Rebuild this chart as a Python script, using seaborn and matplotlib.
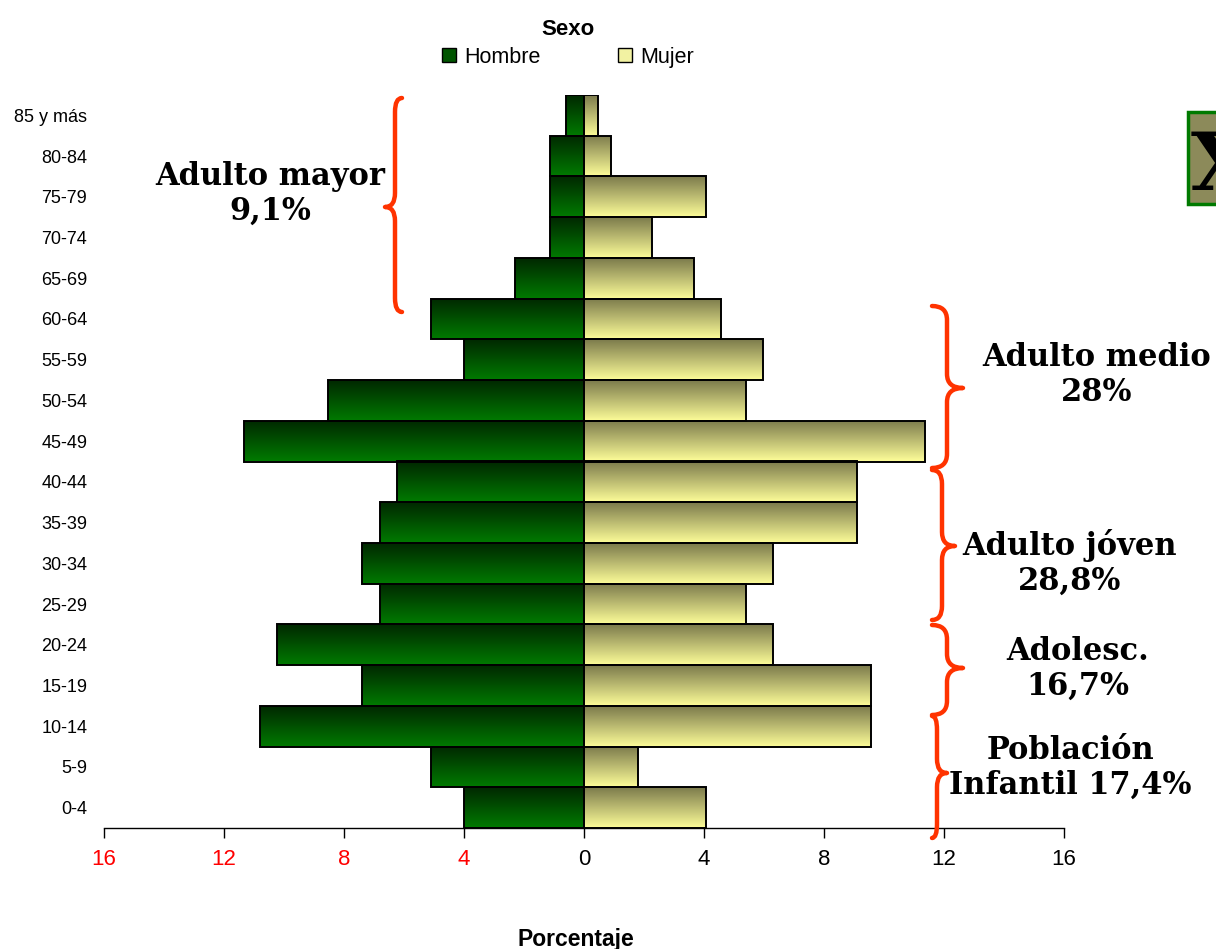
import numpy as np
import pandas as pd
import matplotlib
matplotlib.use("Agg")
import matplotlib.pyplot as plt
import seaborn as sns
from matplotlib import font_manager
from matplotlib.patches import Rectangle, PathPatch, Patch
from matplotlib.path import Path
from matplotlib.colors import LinearSegmentedColormap
from matplotlib.transforms import Affine2D

# age groups, top to bottom
edades = ["85 y más", "80-84", "75-79", "70-74", "65-69", "60-64", "55-59",
          "50-54", "45-49", "40-44", "35-39", "30-34", "25-29", "20-24",
          "15-19", "10-14", "5-9", "0-4"]
hombre = [0.6, 1.15, 1.15, 1.15, 2.3, 5.1, 4.0, 8.55, 11.35, 6.25, 6.8,
          7.4, 6.8, 10.25, 7.4, 10.8, 5.1, 4.0]
mujer = [0.45, 0.9, 4.05, 2.25, 3.65, 4.55, 5.95, 5.4, 11.35, 9.1, 9.1,
         6.3, 5.4, 6.3, 9.55, 9.55, 1.8, 4.05]
x_ticks = [-16, -12, -8, -4, 0, 4, 8, 12, 16]

grupos = [("Adulto mayor\n9,1%", 270, 194),
          ("Adulto medio\n28%", 1097, 375),
          ("Adulto jóven\n28,8%", 1070, 563),
          ("Adolesc.\n16,7%", 1078, 669),
          ("Población\nInfantil 17,4%", 1070, 768)]

W, H = 1216, 949
names = {f.name for f in font_manager.fontManager.ttflist}
narrow = ["Liberation Sans Narrow", "Liberation Sans"] if "Liberation Sans Narrow" in names else ["Liberation Sans"]

sns.set_style("white")
plt.rcParams["font.family"] = ["Liberation Sans", "DejaVu Sans"]
plt.rcParams.update({"text.color": "black", "axes.labelcolor": "black",
                     "xtick.color": "black", "ytick.color": "black"})

df = pd.DataFrame({
    "edad": edades * 2,
    "valor": [-v for v in hombre] + mujer,
    "sexo": ["Hombre"] * len(edades) + ["Mujer"] * len(edades),
})

fig = plt.figure(figsize=(W / 100, H / 100), dpi=100)
ax = fig.add_axes([104 / W, (H - 828) / H, 960 / W, 733 / H])
sns.barplot(data=df, x="valor", y="edad", hue="sexo", order=edades,
            orient="h", dodge=False, width=1.0, legend=False,
            palette={"Hombre": "#006600", "Mujer": "#f0f0a0"},
            edgecolor="black", linewidth=1.4, ax=ax)

# vertical gradient inside each bar, dark on top
cm_h = LinearSegmentedColormap.from_list("h", ["#002800", "#007a00"])
cm_m = LinearSegmentedColormap.from_list("m", ["#7c7b4c", "#fcfc98"])
grad = np.linspace(0, 1, 64).reshape(-1, 1)
for p in list(ax.patches):
    x0, w = p.get_x(), p.get_width()
    y0, h = p.get_y(), p.get_height()
    if w == 0:
        continue
    left, right = min(x0, x0 + w), max(x0, x0 + w)
    cmap = cm_h if left < 0 else cm_m
    im = ax.imshow(grad, cmap=cmap, aspect="auto", origin="upper",
                   extent=(left, right, max(y0, y0 + h), min(y0, y0 + h)),
                   zorder=p.get_zorder() - 0.05, interpolation="bilinear")
    im.set_clip_path(p)
    p.set_facecolor("none")

ax.set_xlim(-16, 16)
ax.set_ylim(len(edades) - 0.5, -0.5)
ax.set_xticks(x_ticks)
ax.set_xticklabels([str(abs(t)) for t in x_ticks], family=narrow, fontsize=16)
for t, lab in zip(x_ticks, ax.get_xticklabels()):
    lab.set_color("#ff0000" if t < 0 else "black")
ax.tick_params(axis="x", bottom=True, direction="out", length=7, width=1,
               color="black", pad=8)
ax.tick_params(axis="y", left=False, length=0, pad=12, labelsize=13)
for lab in ax.get_yticklabels():
    lab.set_family(narrow)
ax.set_ylabel("")
ax.set_xlabel("Porcentaje", fontsize=16.5, fontweight="bold")
ax.xaxis.set_label_coords(0.492, -0.136)
for s in ["top", "right", "left"]:
    ax.spines[s].set_visible(False)
ax.spines["bottom"].set_color("black")
ax.spines["bottom"].set_linewidth(1)

handles = [Patch(facecolor="#005500", edgecolor="black", linewidth=1),
           Patch(facecolor="#f2f2a2", edgecolor="black", linewidth=1)]
leg = fig.legend(handles, ["Hombre", "Mujer"], title="Sexo", loc="upper center",
                 bbox_to_anchor=(568 / W, 1 - 4 / H), ncol=2, frameon=False,
                 prop={"family": narrow, "size": 15.5},
                 title_fontproperties={"weight": "bold", "size": 16},
                 columnspacing=3.6, handlelength=0.65, handleheight=0.65,
                 handletextpad=0.4, borderpad=0.2, labelspacing=0.3)

# pixel coordinates with the origin at the top left
px = Affine2D().scale(1 / W, -1 / H).translate(0, 1) + fig.transFigure

for txt, x, y in grupos:
    fig.text(x, y, txt, transform=px, ha="center", va="center",
             multialignment="center", family="DejaVu Serif", fontsize=22,
             fontweight="bold", linespacing=1.15, color="black")


def brace(x_main, y_top, y_bot, x_tip, y_tip, x_end, r=14):
    verts = [(x_end, y_top), (x_main, y_top), (x_main, y_top + r),
             (x_main, y_tip - r), (x_main, y_tip), (x_tip, y_tip),
             (x_main, y_tip), (x_main, y_tip + r),
             (x_main, y_bot - r), (x_main, y_bot), (x_end, y_bot)]
    codes = [Path.MOVETO, Path.CURVE3, Path.CURVE3,
             Path.LINETO, Path.CURVE3, Path.CURVE3,
             Path.CURVE3, Path.CURVE3,
             Path.LINETO, Path.CURVE3, Path.CURVE3]
    fig.patches.append(PathPatch(Path(verts, codes), transform=px, fill=False,
                                 edgecolor="#ff3300", linewidth=3.2,
                                 capstyle="round", joinstyle="round"))


brace(395, 98, 312, 385, 207, 402)
brace(947, 306, 468, 963, 388, 932)
brace(942, 470, 620, 955, 546, 932)
brace(947, 625, 715, 963, 668, 932)
brace(937, 716, 838, 947, 773, 932)

box = Rectangle((1188, 112), 40, 92, transform=px, facecolor="#8c8a5a",
                edgecolor="#007a00", linewidth=2.5)
fig.patches.append(box)
fig.text(1191, 168, "X", transform=px, ha="left", va="center",
         family="DejaVu Serif", fontsize=58, fontweight="bold",
         color="black").set_clip_path(box)

fig.savefig("out.png", dpi=100)
